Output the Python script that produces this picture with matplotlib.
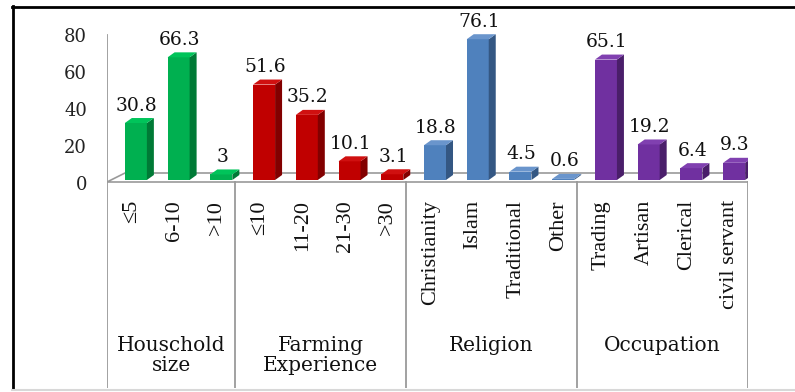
import matplotlib
matplotlib.use("Agg")
import matplotlib.pyplot as plt
from matplotlib.patches import Polygon
from matplotlib.lines import Line2D

# survey data, percent of respondents
groups = ["Houschold\nsize", "Farming\nExperience", "Religion", "Occupation"]
household_labels = ["\u22645", "6-10", ">10"]
household_values = [30.8, 66.3, 3]
farming_labels = ["\u226410", "11-20", "21-30", ">30"]
farming_values = [51.6, 35.2, 10.1, 3.1]
religion_labels = ["Christianity", "Islam", "Traditional", "Other"]
religion_values = [18.8, 76.1, 4.5, 0.6]
occupation_labels = ["Trading", "Artisan", "Clerical", "civil servant"]
occupation_values = [65.1, 19.2, 6.4, 9.3]
yticks = [0, 20, 40, 60, 80]

# front / side / top shades for each group
palette = [
    ("#00B050", "#007A36", "#00C45A"),
    ("#C00000", "#820000", "#D01010"),
    ("#4F81BD", "#345783", "#6A95CC"),
    ("#7030A0", "#4A1E6A", "#8040B0"),
]

W, H = 795, 392
fig = plt.figure(figsize=(W / 100, H / 100), dpi=100)
fig.patch.set_facecolor("white")

# axes laid out in pixels: x 107..748, y 20..388 (baseline at 180)
px_per_unit = 1.85
base = 180
ax = fig.add_axes([107 / W, 4 / H, 641 / W, 368 / H])
ax.set_xlim(0, 15)
ax.set_ylim(-(388 - base) / px_per_unit, (base - 20) / px_per_unit)
ax.axis("off")

sx = 15 / 641          # data units per pixel, x
sy = 1 / px_per_unit   # data units per pixel, y

num_font = "DejaVu Serif"
cat_font = "Liberation Serif"
grey = "#9a9a9a"

# floor slab
fdx, fdy = 18 * sx, 9 * sy
front_y = -2 * sy
floor = Polygon([(0, front_y), (fdx, front_y + fdy), (15 + fdx, front_y + fdy),
                 (15, front_y)], closed=True, facecolor="white",
                edgecolor=grey, linewidth=1.2, zorder=1)
ax.add_patch(floor)

# y axis line and group separators
ax.plot([0, 0], [ax.get_ylim()[0], 78.4], color=grey, lw=1.3, zorder=2)
all_labels = [household_labels, farming_labels, religion_labels, occupation_labels]
all_values = [household_values, farming_values, religion_values, occupation_values]
bounds = [0]
for labs in all_labels:
    bounds.append(bounds[-1] + len(labs))
for b in bounds[1:]:
    ax.plot([b, b], [ax.get_ylim()[0], front_y], color=grey, lw=1.3, zorder=2)

for v in yticks:
    ax.text(-20 * sx, v - 2.7, str(v), ha="right", va="center",
            fontsize=13, family=num_font, color="#222222")

# 3d bars
w = 0.515
bdx, bdy = 7 * sx, 5 * sy
shift = 7.5 * sx
idx = 0
for g, (labs, vals) in enumerate(zip(all_labels, all_values)):
    front, side, top = palette[g]
    xs = [idx + k + 0.5 + shift for k in range(len(vals))]
    ax.bar(xs, vals, width=w, color=front, zorder=3)
    for xc, v, lab in zip(xs, vals, labs):
        x0, x1 = xc - w / 2, xc + w / 2
        ax.add_patch(Polygon([(x1, 0), (x1 + bdx, bdy), (x1 + bdx, v + bdy), (x1, v)],
                             closed=True, facecolor=side, edgecolor="none", zorder=3))
        ax.add_patch(Polygon([(x0, v), (x0 + bdx, v + bdy), (x1 + bdx, v + bdy), (x1, v)],
                             closed=True, facecolor=top, edgecolor="none", zorder=3))
        ax.text(xc + 1 * sx, v + 17.5 * sy, f"{v:g}", ha="center", va="center",
                fontsize=13.5, family=num_font, color="#111111", zorder=4)
        ax.text(xc - shift + 3 * sx, -20 * sy, lab, rotation=90, ha="center", va="top",
                fontsize=16, family=cat_font, color="#111111")
    ax.text((bounds[g] + bounds[g + 1]) / 2, -(336 - base) * sy, groups[g],
            ha="center", va="top", fontsize=14.5, family=num_font,
            linespacing=1.05, color="#111111")
    idx += len(vals)

# outer frame
fig.add_artist(Line2D([12 / W, 1], [1 - 6.5 / H, 1 - 6.5 / H], color="black", lw=2))
fig.add_artist(Line2D([12.5 / W, 12.5 / W], [1 - 6 / H, 1 - 389 / H], color="black", lw=2))
fig.add_artist(Line2D([12 / W, 1], [1 - 389.5 / H, 1 - 389.5 / H], color="#d8d8d8", lw=1.5))

fig.savefig("out.png", dpi=100, facecolor="white")
